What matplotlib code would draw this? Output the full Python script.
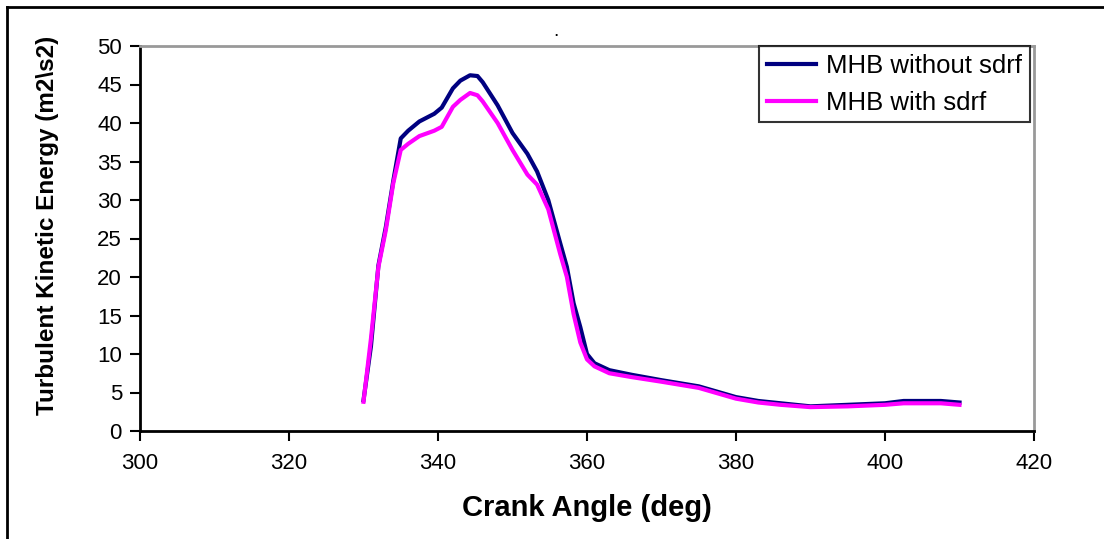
import matplotlib
matplotlib.use("Agg")
import matplotlib.pyplot as plt
from matplotlib.lines import Line2D

crank_angle = [330, 331, 332, 333, 334, 335, 336, 337.5, 339.5, 340.5, 342, 343,
               344.3, 345.3, 346, 348, 350, 352, 353.3, 354.8, 356.4, 357.3, 358.2,
               359.1, 360, 361, 363, 366, 370, 375, 380, 383, 386, 390, 395, 400,
               402.5, 407.5, 410]
tke_without_sdrf = [4.0, 11.0, 21.5, 26.5, 32.5, 38.0, 39.0, 40.2, 41.2, 42.0, 44.5, 45.5,
                    46.2, 46.1, 45.3, 42.3, 38.7, 36.0, 33.7, 30.0, 24.4, 21.3, 16.6,
                    13.5, 10.0, 8.8, 7.9, 7.3, 6.6, 5.8, 4.4, 3.9, 3.6, 3.2, 3.4, 3.6,
                    3.9, 3.9, 3.7]
tke_with_sdrf = [3.8, 12.0, 21.3, 26.1, 32.2, 36.5, 37.3, 38.3, 39.0, 39.5, 42.1, 43.0,
                 43.9, 43.6, 42.8, 40.0, 36.5, 33.3, 32.0, 28.8, 23.0, 20.0, 15.2,
                 11.5, 9.3, 8.4, 7.5, 7.0, 6.4, 5.6, 4.2, 3.7, 3.4, 3.1, 3.2, 3.4,
                 3.6, 3.6, 3.4]
series_labels = ["MHB without sdrf", "MHB with sdrf"]
x_ticks = [300, 320, 340, 360, 380, 400, 420]
y_ticks = [0, 5, 10, 15, 20, 25, 30, 35, 40, 45, 50]

plt.rcParams['font.family'] = ['Liberation Sans', 'DejaVu Sans']

W, H = 1104, 539
fig = plt.figure(figsize=(W / 100, H / 100), dpi=100)
ax = fig.add_axes([140 / W, 1 - 431 / H, (1034 - 140) / W, (431 - 46) / H])

ax.plot(crank_angle, tke_without_sdrf, color='#000080', lw=3, label=series_labels[0],
        solid_joinstyle='round')
ax.plot(crank_angle, tke_with_sdrf, color='#ff00ff', lw=3, label=series_labels[1],
        solid_joinstyle='round')

ax.set_xlim(300, 420)
ax.set_ylim(0, 50)
ax.set_xticks(x_ticks)
ax.set_yticks(y_ticks)
ax.tick_params(direction='out', length=7, width=1.5, labelsize=16, colors='black')
ax.tick_params(axis='x', pad=9)
ax.tick_params(axis='y', pad=6)

for s in ['left', 'bottom']:
    ax.spines[s].set_color('black')
    ax.spines[s].set_linewidth(2)
for s in ['top', 'right']:
    ax.spines[s].set_color('#999999')
    ax.spines[s].set_linewidth(2)

ax.set_xlabel('Crank Angle (deg)', fontsize=21, fontweight='bold')
ax.xaxis.set_label_coords(0.5, -(494 - 431) / (431 - 46), transform=ax.transAxes)
ax.set_ylabel('Turbulent Kinetic Energy (m2\\s2)', fontsize=17.5, fontweight='bold')
ax.yaxis.set_label_coords(-(140 - 59) / (1034 - 140), 0.5 + (238 - 225) / (431 - 46),
                          transform=ax.transAxes)

leg = ax.legend(loc='upper right', bbox_to_anchor=(1030 / W, 1 - 46 / H),
                bbox_transform=fig.transFigure, fontsize=18.5, frameon=True, fancybox=False,
                borderpad=0.3, labelspacing=0.5, handlelength=1.9, handletextpad=0.4,
                borderaxespad=0)
leg.get_frame().set_edgecolor('black')
leg.get_frame().set_linewidth(1.5)

# stray dot near top
fig.text(556 / W, 1 - 36 / H, '.', ha='center', va='baseline', fontsize=14)

# figure border (top and left)
fig.add_artist(Line2D([7 / W, 7 / W], [0, 1 - 7 / H], transform=fig.transFigure,
                      color='black', lw=2))
fig.add_artist(Line2D([7 / W, 1], [1 - 7 / H, 1 - 7 / H], transform=fig.transFigure,
                      color='black', lw=2))

fig.savefig('out.png', dpi=100)
